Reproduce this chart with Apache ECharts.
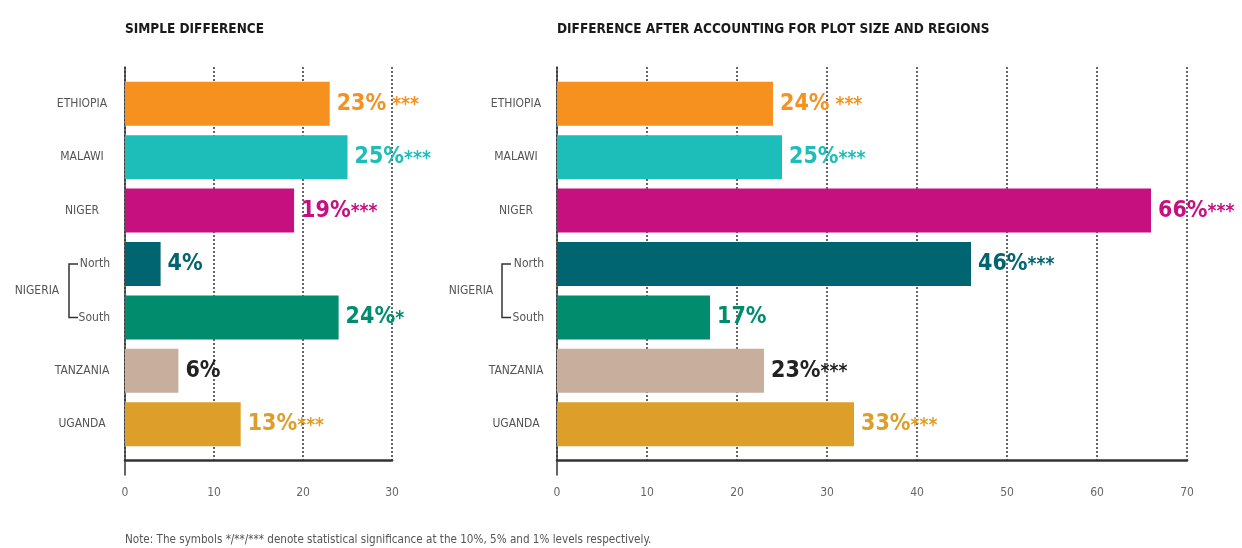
<!DOCTYPE html>
<html>
<head>
<meta charset="utf-8">
<script src="https://cdn.jsdelivr.net/npm/echarts@6/dist/echarts.min.js"></script>
<style>
  html, body { margin: 0; padding: 0; background: #fff; }
  #chart { width: 1242px; height: 548px; }
</style>
</head>
<body>
<div id="chart"></div>
<script>
// data
const categories = ['ETHIOPIA', 'MALAWI', 'NIGER', 'North', 'South', 'TANZANIA', 'UGANDA'];
const simpleValues = [23, 25, 19, 4, 24, 6, 13];
const simpleSig = [' ***', '***', '***', '', '*', '', '***'];
const adjustedValues = [24, 25, 66, 46, 17, 23, 33];
const adjustedSig = [' ***', '***', '***', '***', '', '***', '***'];
const barColors = ['#F6911F', '#1DBDB9', '#C7107F', '#006471', '#008C6D', '#C7AE9D', '#DE9F2A'];
const labelColors = ['#F6911F', '#1DBDB9', '#C7107F', '#006471', '#008C6D', '#222222', '#DE9F2A'];
const simpleTicks = { min: 0, max: 30, interval: 10 };
const adjustedTicks = { min: 0, max: 70, interval: 10 };

const FONT = "'Liberation Sans Narrow', 'DejaVu Sans Condensed', 'Roboto', sans-serif";

const chart = echarts.init(document.getElementById('chart'));

// one panel = bars grid + split/tick grid + tall y line grid
function panel(idx, left, right, ticks, values, sig, catMargin) {
  const g = idx * 3;
  const grids = [
    { left: left, right: right, top: 77, bottom: 97 },
    { left: left, right: right, top: 67, bottom: 88 },
    { left: left, right: right, top: 67, bottom: 73 },
  ];
  const xAxes = [
    { gridIndex: g, type: 'value', min: ticks.min, max: ticks.max, interval: ticks.interval, show: false },
    {
      gridIndex: g + 1, type: 'value', min: ticks.min, max: ticks.max, interval: ticks.interval,
      axisLine: { show: true, lineStyle: { color: '#333', width: 2.5 } },
      axisTick: { show: false },
      splitLine: { show: true, lineStyle: { color: '#333', width: 1.5, type: [2, 2] } },
      axisLabel: { margin: 27, color: '#666', fontFamily: FONT, fontSize: 12 },
    },
    { gridIndex: g + 2, type: 'value', min: ticks.min, max: ticks.max, show: false },
  ];
  const yAxes = [
    {
      gridIndex: g, type: 'category', data: categories, inverse: true,
      axisLine: { show: false }, axisTick: { show: false },
      axisLabel: {
        margin: catMargin,
        formatter: function (v) {
          return (v === 'North' || v === 'South') ? '{s|' + v + '}' : '{c|' + v + '}';
        },
        rich: {
          c: { width: 56, align: 'center', color: '#555', fontFamily: FONT, fontSize: 12 },
          s: { color: '#555', fontFamily: FONT, fontSize: 12 },
        },
      },
    },
    { gridIndex: g + 1, type: 'category', show: false, data: [''] },
    {
      gridIndex: g + 2, type: 'value', min: 0, max: 1,
      axisLine: { show: true, lineStyle: { color: '#333', width: 1.5 } },
      axisTick: { show: false }, axisLabel: { show: false }, splitLine: { show: false },
    },
  ];
  const series = [{
    type: 'bar',
    xAxisIndex: g, yAxisIndex: g,
    barWidth: 44,
    z: 5,
    data: values.map((v, i) => ({
      value: v,
      itemStyle: { color: barColors[i] },
      label: {
        rich: {
          v: { color: labelColors[i], fontFamily: FONT, fontWeight: 'bold', fontSize: 23 },
          st: { color: labelColors[i], fontFamily: FONT, fontWeight: 'bold', fontSize: 19, padding: [3, 0, 0, 0] },
        },
      },
    })),
    label: {
      show: true, position: 'right', distance: 7,
      formatter: function (p) {
        const s = sig[p.dataIndex];
        return '{v|' + p.value + '%}' + (s ? '{st|' + s + '}' : '');
      },
    },
  }];
  return { grids, xAxes, yAxes, series };
}

const L = panel(0, 125, 850, simpleTicks, simpleValues, simpleSig, 15);
const R = panel(1, 557, 55, adjustedTicks, adjustedValues, adjustedSig, 13);

chart.setOption({
  animation: false,
  textStyle: { fontFamily: FONT },
  title: [
    { text: 'SIMPLE DIFFERENCE', left: 120, top: 17, textStyle: { fontFamily: FONT, fontWeight: 'bold', fontSize: 13.5, color: '#1a1a1a' } },
    { text: 'DIFFERENCE AFTER ACCOUNTING FOR PLOT SIZE AND REGIONS', left: 552, top: 17, textStyle: { fontFamily: FONT, fontWeight: 'bold', fontSize: 13.5, color: '#1a1a1a' } },
    { text: 'Note: The symbols */**/*** denote statistical significance at the 10%, 5% and 1% levels respectively.', left: 120, top: 529, textStyle: { fontFamily: FONT, fontWeight: 'normal', fontSize: 11.6, color: '#555' } },
  ],
  grid: L.grids.concat(R.grids),
  xAxis: L.xAxes.concat(R.xAxes),
  yAxis: L.yAxes.concat(R.yAxes),
  series: L.series.concat(R.series),
});

// NIGERIA group label and bracket, placed from the category axis
function nigeriaGroup(yAxisIndex, bx, tx) {
  const yN = chart.convertToPixel({ yAxisIndex: yAxisIndex }, 'North');
  const yS = chart.convertToPixel({ yAxisIndex: yAxisIndex }, 'South');
  return [
    {
      type: 'polyline',
      shape: { points: [[bx + 9, yN], [bx, yN], [bx, yS], [bx + 9, yS]] },
      style: { stroke: '#333', lineWidth: 1.5, fill: null },
    },
    {
      type: 'text', x: tx, y: (yN + yS) / 2,
      style: { text: 'NIGERIA', fill: '#555', font: '12px ' + FONT, textAlign: 'center', textVerticalAlign: 'middle' },
    },
  ];
}

chart.setOption({
  graphic: nigeriaGroup(0, 69, 37).concat(nigeriaGroup(3, 502, 471)),
});
</script>
</body>
</html>
